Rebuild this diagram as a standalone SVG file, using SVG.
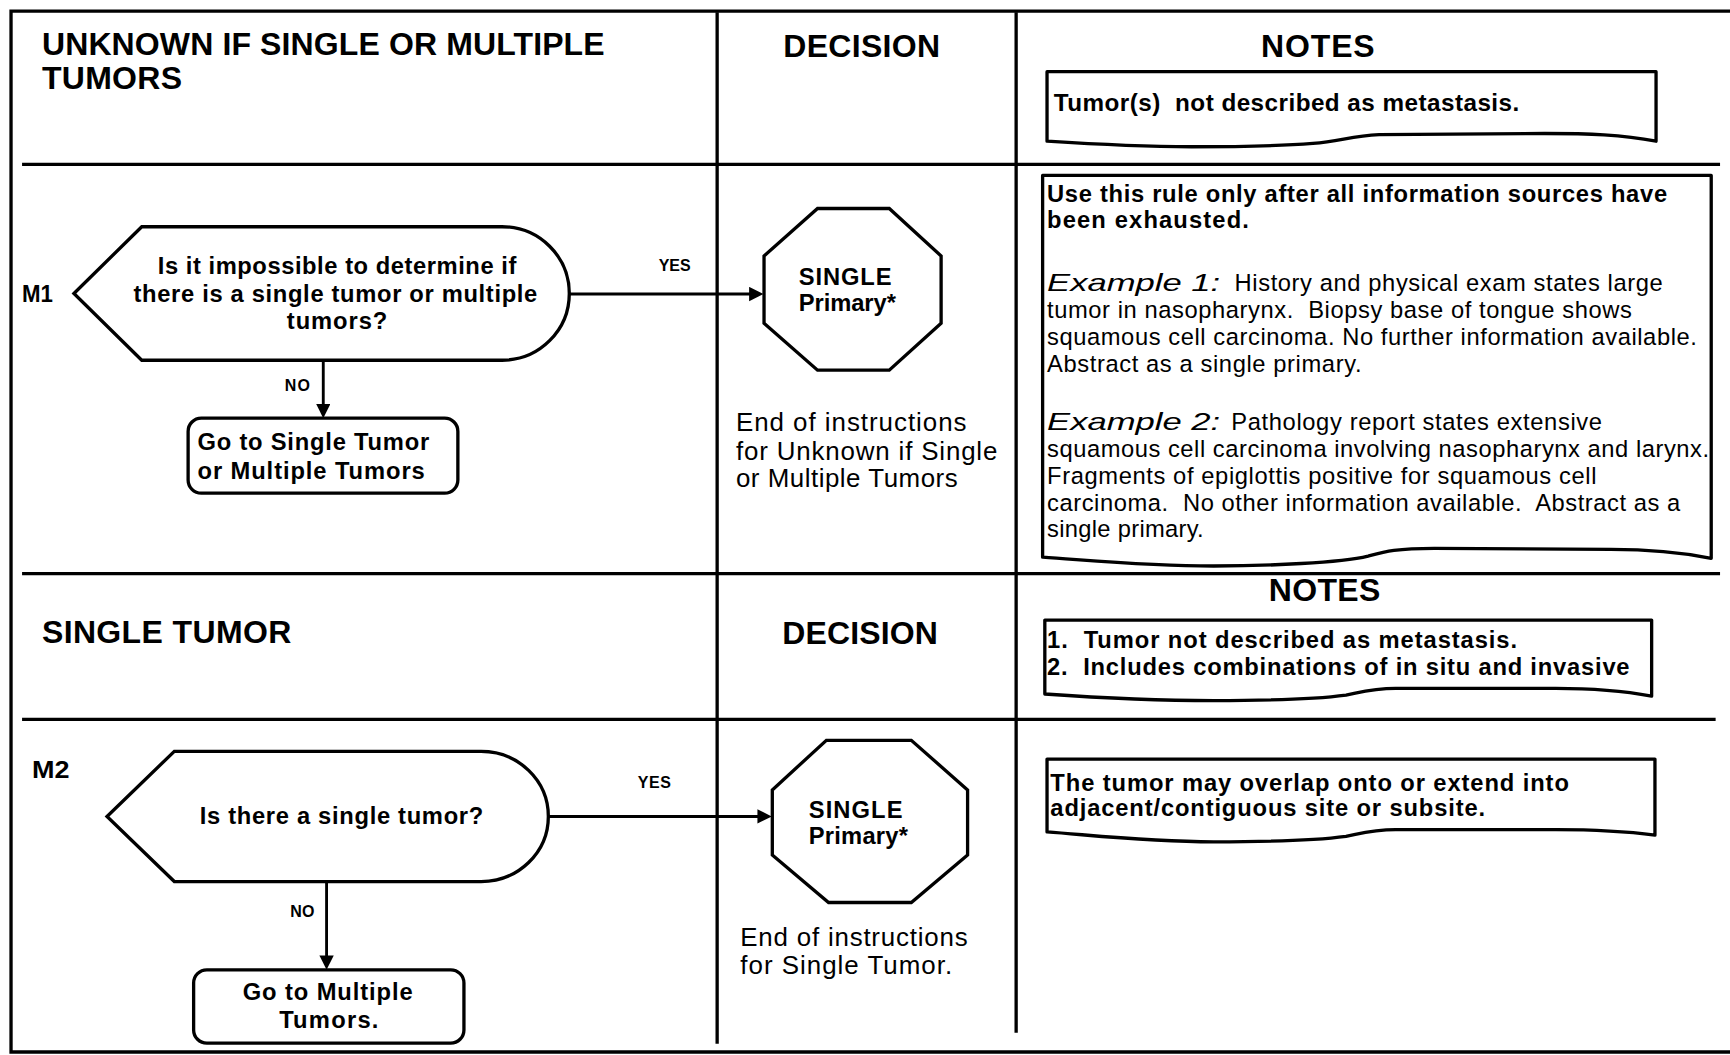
<svg xmlns="http://www.w3.org/2000/svg" width="1730" height="1055" viewBox="0 0 1730 1055">
<style>
text{font-family:"Liberation Sans",Arial,sans-serif;fill:#000}
.h{font-size:29px;font-weight:bold}
.b{font-size:21.5px;font-weight:bold}
.bn{font-size:22px;font-weight:bold}
.r{font-size:21.5px}
.e{font-size:23.5px}
.ex{font-size:21px;font-style:italic}
.yn{font-size:14.5px;font-weight:bold}
.grid{stroke:#000;fill:none;stroke-width:3}
.shape{stroke:#000;fill:#fff;stroke-width:3}
.note{stroke:#000;fill:#fff;stroke-width:3;stroke-linejoin:round}
.conn{stroke:#000;fill:none;stroke-width:2.6;marker-end:url(#ah)}
</style>
<defs>
<marker id="ah" markerUnits="userSpaceOnUse" markerWidth="14" markerHeight="14" refX="5" refY="6.5" orient="auto">
<path d="M0,0 L13,6.5 L0,13 Z" fill="#000"/>
</marker>
</defs>
<rect x="0" y="0" width="1730" height="1055" fill="#fff"/>
<g transform="scale(1.1033)">
<g id="table">
<path class="grid" d="M1575,10 H10 V953.5 H1575" stroke-width="3.5"/>
<line class="grid" x1="20" y1="149" x2="1559" y2="149"/>
<line class="grid" x1="20" y1="520" x2="1559" y2="520"/>
<line class="grid" x1="20" y1="652" x2="1555" y2="652"/>
<line class="grid" x1="650" y1="11" x2="650" y2="946" stroke-width="2.6"/>
<line class="grid" x1="921" y1="11" x2="921" y2="936" stroke-width="2.6"/>
</g>
<g id="headers">
<text class="h" x="38" y="50" textLength="510">UNKNOWN IF SINGLE OR MULTIPLE</text>
<text class="h" x="38" y="81" textLength="127">TUMORS</text>
<text class="h" x="710" y="52" textLength="142">DECISION</text>
<text class="h" x="1143" y="52" textLength="103">NOTES</text>
<text class="h" x="1150" y="545" textLength="101">NOTES</text>
<text class="h" x="38" y="583" textLength="226">SINGLE TUMOR</text>
<text class="h" x="709" y="584" textLength="141">DECISION</text>
</g>
<g id="connectors">
<path class="conn" d="M516,266.5 H684"/>
<path class="conn" d="M293,326.5 V371"/>
<path class="conn" d="M497,740 H691.5"/>
<path class="conn" d="M296,799 V871"/>
<text class="yn" x="597" y="246" textLength="29">YES</text>
<text class="yn" x="258" y="354" textLength="23">NO</text>
<text class="yn" x="578" y="714" textLength="30">YES</text>
<text class="yn" x="263" y="831" textLength="22">NO</text>
</g>
<g id="notes-top">
<path class="note" d="M949,65 H1501 V128 C1470,122 1440,121 1400,121 L1250,122 C1225,123 1215,128 1190,130 C1150,133 1110,133 1080,133 C1030,133 980,130 949,128 Z"/>
<text class="bn" x="955" y="101" textLength="422" xml:space="preserve">Tumor(s)  not described as metastasis.</text>
</g>
<g id="M1-label"><text class="b" x="20" y="274" textLength="28" lengthAdjust="spacingAndGlyphs">M1</text></g>
<g id="M1-question">
<path class="shape" d="M67,266 L128.5,205.5 H455 A61,60.5 0 0 1 455,326.5 H128.5 Z"/>
<text class="b" x="143" y="248" textLength="325">Is it impossible to determine if</text>
<text class="b" x="121" y="274" textLength="366">there is a single tumor or multiple</text>
<text class="b" x="260" y="298" textLength="91">tumors?</text>
</g>
<g id="M1-no">
<rect class="shape" x="170.5" y="379" width="244.5" height="68" rx="12"/>
<text class="b" x="179" y="408" textLength="210">Go to Single Tumor</text>
<text class="b" x="179" y="434" textLength="206">or Multiple Tumors</text>
</g>
<g id="M1-yes">
<polygon class="shape" points="741,189 806,189 853,232 853,293 806,335.5 741,335.5 692.5,293 692.5,232"/>
<text class="b" x="724" y="258" textLength="84">SINGLE</text>
<text class="b" x="724" y="282" textLength="88">Primary*</text>
</g>
<g id="M1-end">
<text class="e" x="667" y="391" textLength="209">End of instructions</text>
<text class="e" x="667" y="417" textLength="237">for Unknown if Single</text>
<text class="e" x="667" y="441" textLength="201">or Multiple Tumors</text>
</g>
<g id="M1-notes">
<path class="note" d="M945,159 H1551 V506 C1520,500 1490,498 1460,498 L1300,497 C1265,497 1255,500 1240,504 C1215,510 1150,513 1100,513 C1040,513 990,508 945,505 Z"/>
<text class="b" x="949" y="183" textLength="562">Use this rule only after all information sources have</text>
<text class="b" x="949" y="207" textLength="183">been exhausted.</text>
<text class="ex" x="949" y="264" textLength="157" lengthAdjust="spacingAndGlyphs">Example 1:</text>
<text class="r" x="1119" y="264" textLength="388">History and physical exam states large</text>
<text class="r" x="949" y="288.5" textLength="530" xml:space="preserve">tumor in nasopharynx.  Biopsy base of tongue shows</text>
<text class="r" x="949" y="313" textLength="589">squamous cell carcinoma. No further information available.</text>
<text class="r" x="949" y="337" textLength="285">Abstract as a single primary.</text>
<text class="ex" x="949" y="390" textLength="157" lengthAdjust="spacingAndGlyphs">Example 2:</text>
<text class="r" x="1116" y="390" textLength="336">Pathology report states extensive</text>
<text class="r" x="949" y="414" textLength="600">squamous cell carcinoma involving nasopharynx and larynx.</text>
<text class="r" x="949" y="438.5" textLength="498">Fragments of epiglottis positive for squamous cell</text>
<text class="r" x="949" y="463.5" textLength="574" xml:space="preserve">carcinoma.  No other information available.  Abstract as a</text>
<text class="r" x="949" y="487" textLength="142">single primary.</text>
</g>
<g id="single-notes">
<path class="note" d="M947,562 H1497 V631 C1470,626 1440,624 1410,624 L1265,624 C1245,624 1235,627 1220,630 C1190,634 1140,635 1100,635 C1040,635 990,632 947,629 Z"/>
<text class="b" x="949" y="587" textLength="426" xml:space="preserve">1.  Tumor not described as metastasis.</text>
<text class="b" x="949" y="611.5" textLength="528" xml:space="preserve">2.  Includes combinations of in situ and invasive</text>
</g>
<g id="M2-label"><text class="b" x="29" y="705" textLength="34" lengthAdjust="spacingAndGlyphs">M2</text></g>
<g id="M2-question">
<path class="shape" d="M97,740 L158,681 H436 A61,59 0 0 1 436,799 H158 Z"/>
<text class="b" x="181" y="747" textLength="257">Is there a single tumor?</text>
</g>
<g id="M2-no">
<rect class="shape" x="175.5" y="879" width="245" height="66.5" rx="12"/>
<text class="b" x="220" y="906" textLength="154">Go to Multiple</text>
<text class="b" x="253" y="932" textLength="90">Tumors.</text>
</g>
<g id="M2-yes">
<polygon class="shape" points="749,671 826,671 877,716 877,775 826,818 751,818 700,775 700,716"/>
<text class="b" x="733" y="741" textLength="85">SINGLE</text>
<text class="b" x="733" y="765" textLength="90">Primary*</text>
</g>
<g id="M2-end">
<text class="e" x="671" y="857" textLength="206">End of instructions</text>
<text class="e" x="671" y="883" textLength="192">for Single Tumor.</text>
</g>
<g id="M2-notes">
<path class="note" d="M949,688 H1500 V757 C1470,753 1440,752 1410,752 L1265,752 C1245,752 1235,755 1220,758 C1190,762 1140,763 1100,763 C1040,763 990,757 949,754 Z"/>
<text class="b" x="952" y="717" textLength="470">The tumor may overlap onto or extend into</text>
<text class="b" x="952" y="740" textLength="394">adjacent/contiguous site or subsite.</text>
</g>
</g>
</svg>
